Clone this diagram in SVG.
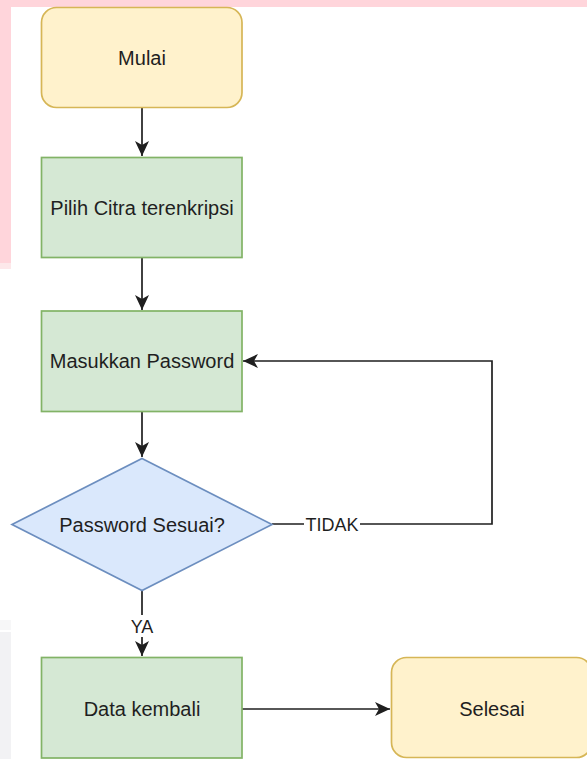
<svg xmlns="http://www.w3.org/2000/svg" width="587" height="759" viewBox="0 0 587 759">
<style>
.lbl{font-family:"Liberation Sans",Arial,sans-serif;font-size:20px;fill:#1f1f1f;text-anchor:middle;dominant-baseline:central}
.elbl{font-family:"Liberation Sans",Arial,sans-serif;font-size:18px;fill:#1f1f1f;text-anchor:middle;dominant-baseline:central}
.term{fill:#fff2cc;stroke:#d6b656;stroke-width:1.7}
.proc{fill:#d5e8d4;stroke:#82b366;stroke-width:1.7}
.dec{fill:#dae8fc;stroke:#6c8ebf;stroke-width:1.7}
.edge{fill:none;stroke:#1f1f1f;stroke-width:1.7}
</style>
<defs>
<marker id="arr" markerUnits="userSpaceOnUse" markerWidth="16" markerHeight="16" viewBox="-16 -8 16 16" refX="0" refY="0" orient="auto">
<path d="M0,0 L-15,-7 L-11,0 L-15,7 Z" fill="#1f1f1f"/>
</marker>
</defs>
<rect x="0" y="0" width="587" height="759" fill="#ffffff"/>
<rect x="0" y="0" width="587" height="7" fill="#ffd5db"/>
<rect x="0" y="0" width="11" height="263" fill="#ffd5db"/>
<rect x="0" y="263" width="11" height="6" fill="#fde8ea"/>
<rect x="0" y="620" width="11" height="10" fill="#f7f7f8"/>
<rect x="0" y="632" width="11" height="127" fill="#f2f2f4"/>
<g id="connectors">
<line class="edge" x1="142" y1="108" x2="142" y2="156" marker-end="url(#arr)"/>
<line class="edge" x1="142" y1="258" x2="142" y2="310" marker-end="url(#arr)"/>
<line class="edge" x1="142" y1="412" x2="142" y2="457" marker-end="url(#arr)"/>
<line class="edge" x1="142" y1="591" x2="142" y2="656" marker-end="url(#arr)"/>
<line class="edge" x1="242" y1="709" x2="390" y2="709" marker-end="url(#arr)"/>
<polyline class="edge" points="272,524 492,524 492,361 243,361" marker-end="url(#arr)"/>
<rect x="128" y="615" width="28" height="22" fill="#ffffff"/>
<text class="elbl" x="142" y="627">YA</text>
<rect x="304" y="514" width="56" height="22" fill="#ffffff"/>
<text class="elbl" x="332" y="525">TIDAK</text>
</g>
<g id="mulai">
<rect class="term" x="41.5" y="7.5" width="200.5" height="100" rx="15" ry="15"/>
<text class="lbl" x="142" y="58">Mulai</text>
</g>
<g id="pilih">
<rect class="proc" x="41.5" y="157.5" width="200.5" height="100"/>
<text class="lbl" x="142" y="208">Pilih Citra terenkripsi</text>
</g>
<g id="masukkan">
<rect class="proc" x="41.5" y="311" width="200.5" height="100.5"/>
<text class="lbl" x="142" y="361">Masukkan Password</text>
</g>
<g id="sesuai">
<polygon class="dec" points="142,458.5 272,524.5 142,590.5 12,524.5"/>
<text class="lbl" x="142" y="525">Password Sesuai?</text>
</g>
<g id="data">
<rect class="proc" x="41.5" y="657.5" width="200.5" height="100.5"/>
<text class="lbl" x="142" y="709">Data kembali</text>
</g>
<g id="selesai">
<rect class="term" x="391.5" y="657.5" width="200" height="100" rx="15" ry="15"/>
<text class="lbl" x="492" y="709">Selesai</text>
</g>
</svg>
